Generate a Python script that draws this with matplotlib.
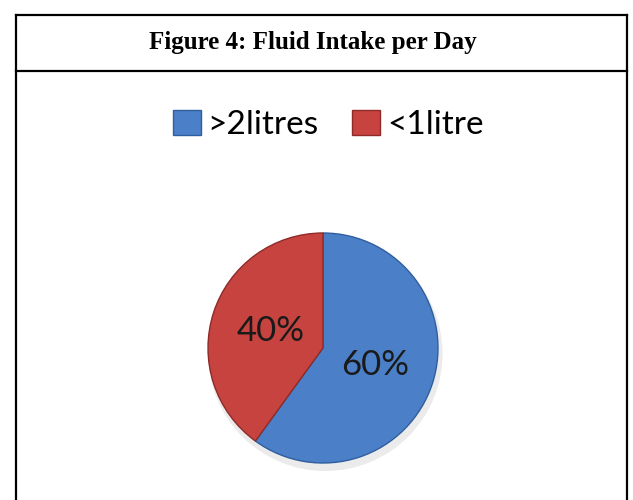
import matplotlib
matplotlib.use("Agg")
import matplotlib.pyplot as plt
from matplotlib.lines import Line2D
from matplotlib.patches import Ellipse

# data
labels = [">2litres", "<1litre"]
shares = [60, 40]
colors = ["#4B80C8", "#C6433F"]
edges = ["#2F5E9E", "#8E2B28"]

W, H = 633, 500
fig = plt.figure(figsize=(W / 100, H / 100), dpi=100)

# frame of the table cell
def px(x, y):
    return x / W, 1 - y / H

for (x0, y0), (x1, y1) in [((16, 15), (627, 15)), ((16, 15), (16, 500)),
                           ((627, 15), (627, 500)), ((16, 71), (627, 71))]:
    a, b = px(x0, y0)
    c, d = px(x1, y1)
    fig.add_artist(Line2D([a, c], [b, d], color="black", lw=1.6, transform=fig.transFigure))

tx, ty = px(313, 43)
fig.text(tx, ty, "Figure 4: Fluid Intake per Day", ha="center", va="center",
         fontsize=18, fontweight="bold", family="Liberation Serif")

# pie
cx, cy, r = 323, 348, 115
ax = fig.add_axes([(cx - r) / W, (H - cy - r) / H, 2 * r / W, 2 * r / H])
ax.add_patch(Ellipse((0.02, -0.05), 2.04, 2.04, color="#000000", alpha=0.08,
                     zorder=0, lw=0, clip_on=False))
wedges, texts = ax.pie(shares, colors=colors, startangle=90, counterclock=False,
                       labels=[f"{s}%" for s in shares], labeldistance=0.48,
                       wedgeprops=dict(linewidth=1.0),
                       textprops=dict(fontsize=25, family="Lato", color="#1a1a1a"))
for w, e in zip(wedges, edges):
    w.set_edgecolor(e)
for t in texts:
    t.set_ha("center")
ax.set_xlim(-1, 1)
ax.set_ylim(-1, 1)
ax.set_aspect("equal")
ax.axis("off")

lx, ly = px(328, 125)
fig.legend(wedges, labels, loc="center", bbox_to_anchor=(lx, ly), ncol=2, frameon=False,
           prop=dict(family="Lato", size=24), handlelength=0.85, handleheight=0.75,
           handletextpad=0.2, columnspacing=1.0)

fig.savefig("out.png", dpi=100)
